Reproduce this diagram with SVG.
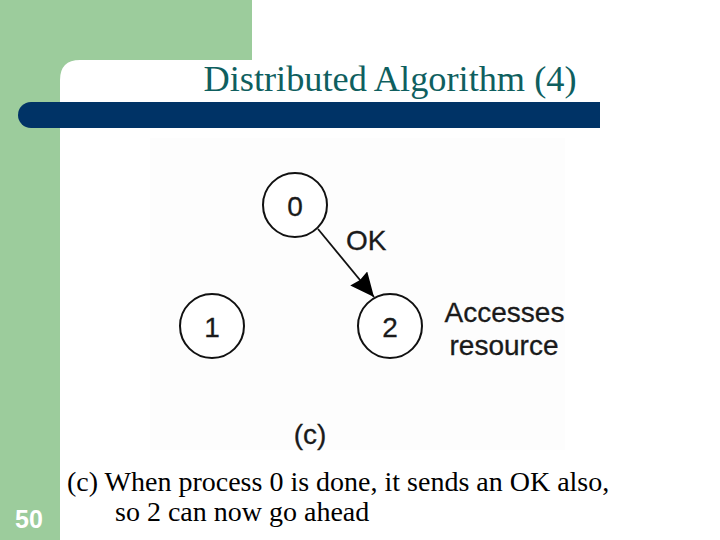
<svg xmlns="http://www.w3.org/2000/svg" width="720" height="540" viewBox="0 0 720 540">
<style>
.s{font-family:"Liberation Serif","Times New Roman",serif;fill:#000;font-size:28px}
.a{font-family:"Liberation Sans",Arial,sans-serif;fill:#1a1a1a;font-size:28px;stroke:#1a1a1a;stroke-width:.3}
.n{fill:#fff;stroke:#111;stroke-width:2}
</style>
<defs><marker id="ah" markerUnits="userSpaceOnUse" markerWidth="26" markerHeight="26" refX="24" refY="11" orient="auto"><path d="M0 0L24 11L0 22L2 11Z" fill="#000"/></marker></defs>
<g id="background">
<rect width="720" height="540" fill="#fff"/>
<path d="M0 0H252V60H80Q60 60 60 80V540H0Z" fill="#9ccc9c"/>
<path d="M31 102H600V128H31A13 13 0 0 1 31 102Z" fill="#003366"/>
</g>
<rect x="150" y="138" width="415" height="312" fill="#fdfdfd"/>
<text x="390" y="91" text-anchor="middle" style="font-family:'Liberation Serif','Times New Roman',serif;font-size:36.3px;fill:#0f5f5f">Distributed Algorithm (4)</text>
<g id="connectors"><line x1="318" y1="229" x2="374" y2="297" stroke="#111" stroke-width="1.8" marker-end="url(#ah)"/></g>
<g id="node0"><circle class="n" cx="295" cy="205" r="32"/><text class="a" x="295" y="216" text-anchor="middle">0</text></g>
<g id="node1"><circle class="n" cx="212" cy="326" r="32"/><text class="a" x="212" y="337" text-anchor="middle">1</text></g>
<g id="node2"><circle class="n" cx="390" cy="326" r="32"/><text class="a" x="390" y="337" text-anchor="middle">2</text></g>
<text class="a" x="346" y="250">OK</text>
<text class="a" x="504.500" y="322" text-anchor="middle">Accesses</text>
<text class="a" x="504" y="355" text-anchor="middle">resource</text>
<text class="a" x="310" y="444" text-anchor="middle">(c)</text>
<text class="s" x="67" y="491">(c) When process 0 is done, it sends an OK also,</text>
<text class="s" x="115" y="521">so 2 can now go ahead</text>
<text x="29" y="528" text-anchor="middle" style="font-family:'Liberation Sans',Arial,sans-serif;font-weight:bold;font-size:25px;fill:#fff">50</text>
</svg>
